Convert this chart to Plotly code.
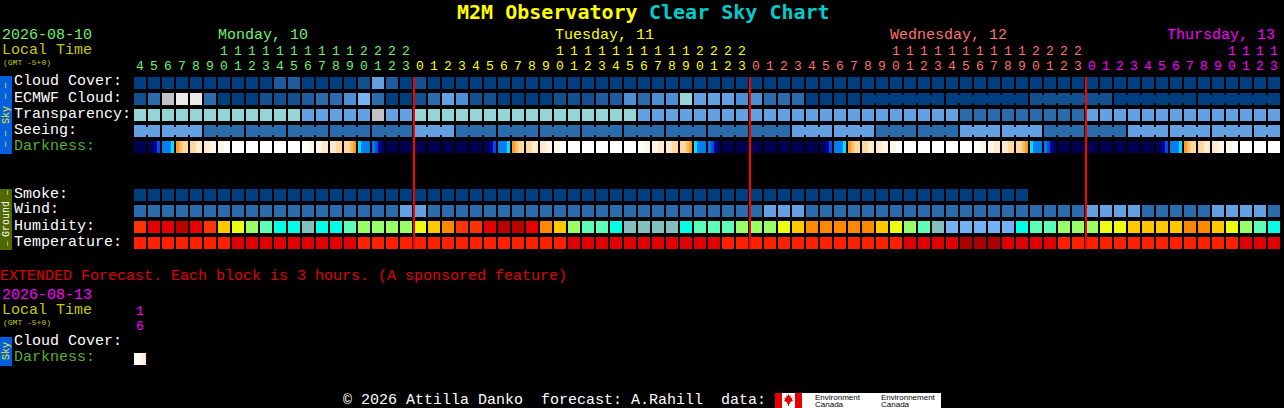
import numpy as np
import plotly.graph_objects as go

W, H = 1284, 408
MONO = "Liberation Mono"

# ---- palettes ----
SKY = ["#003F7F", "#13508F", "#1E5C9F", "#2B6CAC", "#4D8FD5", "#63A1E2", "#76B4F6", "#95D5D5", "#C2C2C2", "#EAEAEA"]
HUM = ["#BB0000", "#E60000", "#FF3300", "#FF8800", "#FFC800", "#EDFF11", "#99FF66", "#5CFFB5", "#00FFE6", "#83BFBF", "#73B3F5"]
TMP = ["#AA0000", "#E00000", "#FF2000"]
DRK = ["#000050", "#00006A", "#0000A0", "#0050D8", "#0080F0", "#00E0FF", "#FF9A20", "#FFBE60", "#FFD8A0", "#FFEACF", "#FFF6E8", "#FFFFFF"]

# ---- hours shown (local time) ----
hours = [4,5,6,7,8,9,10,11,12,13,14,15,16,17,18,19,20,21,22,23,
         0,1,2,3,4,5,6,7,8,9,10,11,12,13,14,15,16,17,18,19,20,21,22,23,
         0,1,2,3,4,5,6,7,8,9,10,11,12,13,14,15,16,17,18,19,20,21,22,23,
         0,1,2,3,4,5,6,7,8,9,10,11,12,13]
day_index = [0]*20 + [1]*24 + [2]*24 + [3]*14
day_colors = ["#70F070", "#FFFF00", "#FF7070", "#FF00FF"]
unit_colors = [day_colors[d] for d in day_index]
midnight_cols = [20, 44, 68]

# ---- sky rows (SKY palette codes) ----
cloud = [0,0,0,0,0,0,0,0,0,0,2,2,0,0,0,0,1,5,2,0,
         1,0,0,0,0,0,0,0,0,0,0,0,0,0,0,0,0,0,0,0,0,0,0,0,
         0,0,0,0,0,0,0,0,0,0,0,0,0,0,0,0,0,0,0,0,0,0,0,0,
         0,0,0,0,0,0,0,0,0,0,0,0,0,0]
ecmwf = [1,3,8,9,9,3,0,0,0,1,1,1,2,3,3,4,6,3,0,0,
         1,3,5,4,1,1,0,0,0,0,1,1,1,2,2,4,3,4,4,7,5,5,5,4,
         4,3,3,3,0,0,0,0,0,0,0,0,0,0,0,0,0,0,0,0,1,1,1,1,
         1,1,0,0,0,0,0,0,0,0,0,0,0,0]
transparency = [7,7,7,7,7,7,7,7,7,7,7,7,5,5,5,5,5,8,5,5,
                7,7,7,7,7,7,7,7,7,7,7,7,7,7,7,7,5,5,5,5,5,5,5,5,
                5,5,5,5,5,5,5,5,5,5,5,5,5,5,5,3,3,3,3,3,3,3,3,3,
                5,5,5,5,5,5,5,5,5,5,5,5,5,5]
seeing = [5,5,5,5,5,3,3,3,3,3,3,3,3,3,3,3,3,3,3,3,
          5,5,5,3,3,3,3,3,3,3,3,3,3,3,3,3,3,3,3,3,3,3,3,3,
          3,3,3,5,5,5,5,5,5,3,3,3,3,3,3,5,5,5,5,5,5,3,3,3,
          3,3,3,5,5,5,5,5,5,5,5,5,5,5]
seeing_blocks = [(0,1),(2,4),(5,7),(8,10),(11,13),(14,16),(17,19),(20,22),(23,25),(26,28),(29,31),
                 (32,34),(35,37),(38,40),(41,43),(44,46),(47,49),(50,52),(53,55),(56,58),(59,61),
                 (62,64),(65,67),(68,70),(71,73),(74,76),(77,79),(80,81)]
ecmwf_blocks = [(52,57),(58,63),(64,69),(70,75),(76,81)]

# ---- darkness, four readings inside every block (DRK palette codes) ----
darkness = [
    [0,0,0,0],[0,1,2,3],[4,4,4,5],[6,7,8,8],[8,8,9,9],[9,9,10,10],[10,10,11,11],
    [11,11,11,11],[11,11,11,11],[11,11,11,11],[11,11,11,11],[11,11,11,11],
    [11,11,10,10],[10,10,9,9],[9,9,8,8],[8,8,7,6],[5,4,4,4],[4,3,2,1],[0,0,0,0],[0,0,0,0],

    [0,0,0,0],[0,0,0,0],[0,0,0,0],[0,0,0,0],
    [0,0,0,0],[0,1,2,3],[4,4,4,5],[6,7,8,8],[8,8,9,9],[9,9,10,10],[10,10,11,11],
    [11,11,11,11],[11,11,11,11],[11,11,11,11],[11,11,11,11],[11,11,11,11],
    [11,11,10,10],[10,10,9,9],[9,9,8,8],[8,8,7,6],[5,4,4,4],[4,3,2,1],[0,0,0,0],[0,0,0,0],

    [0,0,0,0],[0,0,0,0],[0,0,0,0],[0,0,0,0],
    [0,0,0,0],[0,1,2,3],[4,4,4,5],[6,7,8,8],[8,8,9,9],[9,9,10,10],[10,10,11,11],
    [11,11,11,11],[11,11,11,11],[11,11,11,11],[11,11,11,11],[11,11,11,11],
    [11,11,10,10],[10,10,9,9],[9,9,8,8],[8,8,7,6],[5,4,4,4],[4,3,2,1],[0,0,0,0],[0,0,0,0],

    [0,0,0,0],[0,0,0,0],[0,0,0,0],[0,0,0,0],
    [0,0,0,0],[0,1,2,3],[4,4,4,5],[6,7,8,8],[8,8,9,9],[9,9,10,10],[10,10,11,11],
    [11,11,11,11],[11,11,11,11],[11,11,11,11],
]
extended_darkness = [[11,11,10,9]]

# ---- ground rows ----
smoke = [0,0,0,0,0,0,0,0,0,0,0,0,0,0,0,0,0,0,0,0,
         0,0,0,0,0,0,0,0,0,0,0,0,0,0,0,0,0,0,0,0,0,0,0,0,
         0,0,0,0,0,0,0,0,0,0,0,0,0,0,0,0,0,0,0,0]
wind = [3,3,3,3,3,3,3,3,3,3,3,3,3,3,3,3,3,3,3,5,
        5,3,3,3,3,3,3,3,3,3,3,3,3,3,3,3,3,3,3,3,3,3,3,3,
        3,5,5,5,3,3,3,3,3,3,3,3,3,3,3,3,3,3,3,3,3,3,3,3,
        5,5,5,5,3,3,3,3,3,5,5,5,5,3]
humidity = [2,1,1,0,1,2,4,5,6,7,8,8,9,8,8,7,6,6,6,6,
            5,4,3,2,2,1,0,0,1,3,4,6,7,7,8,9,9,9,9,8,7,7,7,6,
            6,6,5,4,3,3,3,3,3,4,5,6,7,9,10,10,10,10,10,8,7,7,6,6,
            6,5,5,4,4,4,4,3,3,4,5,6,7,8]
temperature = [2,2,2,2,2,2,2,1,1,1,1,1,1,1,1,1,2,2,2,2,
               2,2,2,2,2,2,2,2,2,2,2,1,1,1,1,1,1,1,1,1,1,1,2,2,
               2,2,2,2,2,2,2,2,2,2,2,1,1,1,1,0,0,0,1,1,1,1,2,2,
               2,2,2,2,2,2,2,2,2,2,2,1,1,1]

# ---- text ----
row_labels = ["Cloud Cover:", "ECMWF Cloud:", "Transparency:", "Seeing:", "Darkness:"]
ground_labels = ["Smoke:", "Wind:", "Humidity:", "Temperature:"]
day_titles = ["Monday, 10", "Tuesday, 11", "Wednesday, 12", "Thursday, 13"]
day_title_x = [218, 555, 890, 1167]

# ---- pixel frame: a column is 14 px, a row 16 px ----
def cx(px): return (px - 140) / 14
def cy(py): return (py - 83) / 16
def pxx(x): return x / W
def pxy(y): return 1 - y / H

def discrete(colors):
    n = len(colors)
    out = []
    for i, c in enumerate(colors):
        out += [[i / n, c], [(i + 1) / n, c]]
    return out

fig = go.Figure()

def row(values, y, colors):
    fig.add_trace(go.Heatmap(
        z=[values], x0=0, dx=1, y0=y, dy=1, xgap=2, ygap=4,
        colorscale=discrete(colors), zmin=-0.5, zmax=len(colors) - 0.5,
        showscale=False, hoverinfo="skip"))

row(cloud, 0, SKY)
row(ecmwf, 1, SKY)
row(transparency, 2, SKY)
row(seeing, 3, SKY)
row(smoke, 7, SKY)
row(wind, 8, SKY)
row(humidity, 9, HUM)
row(temperature, 10, TMP)

def dark_row(cells, y):
    z = []
    for readings in cells:
        z.append(None)
        z += list(np.repeat(readings, 3).astype(float))
        z.append(None)
    fig.add_trace(go.Heatmap(
        z=[z], x0=-0.5 + 0.5 / 14, dx=1 / 14, y0=y, dy=0.75,
        colorscale=discrete(DRK), zmin=-0.5, zmax=len(DRK) - 0.5,
        showscale=False, hoverinfo="skip"))

dark_row(darkness, 4)
dark_row(extended_darkness, cy(359))

# links between blocks of one forecast period
def links(blocks, values, y):
    by_color = {}
    for a, b in blocks:
        for j in range(a, b):
            xs, ys = by_color.setdefault(values[j], ([], []))
            xs += [j + 0.5 - 1 / 14, j + 0.5 + 1 / 14, None]
            ys += [y, y, None]
    for code, (xs, ys) in by_color.items():
        fig.add_trace(go.Scatter(x=xs, y=ys, mode="lines", line=dict(color=SKY[code], width=8),
                                 hoverinfo="skip", showlegend=False))

links(seeing_blocks, seeing, 3)
links(ecmwf_blocks, ecmwf, 1)

# midnight lines
xs, ys = [], []
for c in midnight_cols:
    xs += [c - 3 / 7, c - 3 / 7, None]
    ys += [cy(77), cy(249.5), None]
fig.add_trace(go.Scatter(x=xs, y=ys, mode="lines", line=dict(color="#FF0000", width=2),
                         hoverinfo="skip", showlegend=False))

# hour digits
DIGIT = 13
cols = list(range(len(hours)))
fig.add_trace(go.Scatter(
    x=cols, y=[cy(67)] * len(cols), mode="text", text=[str(h % 10) for h in hours],
    textfont=dict(family=MONO, size=DIGIT, color=unit_colors), textposition="middle center",
    hoverinfo="skip", showlegend=False))
tens = [i for i in cols if hours[i] >= 10]
fig.add_trace(go.Scatter(
    x=tens, y=[cy(52)] * len(tens), mode="text", text=[str(hours[i] // 10) for i in tens],
    textfont=dict(family=MONO, size=DIGIT, color=[unit_colors[i] for i in tens]),
    textposition="middle center", hoverinfo="skip", showlegend=False))
fig.add_trace(go.Scatter(
    x=[0, 0], y=[cy(312), cy(327)], mode="text", text=["1", "6"],
    textfont=dict(family=MONO, size=DIGIT, color="#FF00FF"), textposition="middle center",
    hoverinfo="skip", showlegend=False))

ann = []
def text(s, x, y, color="#FFFFFF", size=15, bold=False, angle=0, anchor="left", family=MONO):
    ann.append(dict(text=f"<b>{s}</b>" if bold else s, x=pxx(x), y=pxy(y), xref="paper", yref="paper",
                    xanchor=anchor, yanchor="middle", showarrow=False, textangle=angle,
                    font=dict(family=family, size=size, color=color), borderpad=0, borderwidth=0))

text("M2M Observatory", 457, 12, "#FFFF00", 20, True, family="DejaVu Sans Mono")
text("Clear Sky Chart", 649, 12, "#00CCCC", 20, True, family="DejaVu Sans Mono")
text("2026-08-10", 2, 35, "#70F070")
text("Local Time", 2, 50, "#C8C800")
text("(GMT -5+0)", 3, 62, "#C8C800", 8)
for t, x, c in zip(day_titles, day_title_x, day_colors):
    text(t, x, 35, c)
for i, t in enumerate(row_labels):
    text(t, 14, 82 + 16 * i, "#55B030" if t == "Darkness:" else "#FFFFFF")
for i, t in enumerate(ground_labels):
    text(t, 14, 194 + 16 * i)
text("EXTENDED Forecast. Each block is 3 hours. (A sponsored feature)", 0, 276, "#E00000")
text("2026-08-13", 2, 295, "#FF00FF")
text("Local Time", 2, 310, "#C8C800")
text("(GMT -5+0)", 3, 322, "#C8C800", 8)
text("Cloud Cover:", 14, 341)
text("Darkness:", 14, 357, "#55B030")
text("© 2026 Attilla Danko  forecast: A.Rahill  data:", 343, 400)
# side tabs
text("Sky", 6, 115, "#FFE800", 10, angle=-90, anchor="center")
text("— —", 6, 91, "#FFE800", 9, angle=-90, anchor="center")
text("— —", 6, 139, "#FFE800", 9, angle=-90, anchor="center")
text("Ground", 6, 219, "#FFFFFF", 10, angle=-90, anchor="center")
text("—", 6, 193, "#FFFFFF", 8, angle=-90, anchor="center")
text("—", 6, 244, "#FFFFFF", 8, angle=-90, anchor="center")
text("Sky", 6, 351, "#FFE800", 10, angle=-90, anchor="center")
# logos
text("Environment", 815, 397, "#000000", 8, family="Liberation Sans")
text("Canada", 815, 404, "#000000", 8, family="Liberation Sans")
text("Environnement", 881, 397, "#000000", 8, family="Liberation Sans")
text("Canada", 881, 404, "#000000", 8, family="Liberation Sans")

def rect(x0, y0, x1, y1, color):
    return dict(type="rect", xref="paper", yref="paper", x0=pxx(x0), x1=pxx(x1), y0=pxy(y0), y1=pxy(y1),
                fillcolor=color, line=dict(width=0), layer="below")

leaf = [(788.5,394),(789.5,396),(791,395.5),(790.5,398),(792.5,397.5),(792,399.5),(793,400.5),(790,402.5),
        (790,404),(789,403.5),(789,406),(788,406),(788,403.5),(787,404),(787,402.5),(784,400.5),(785,399.5),
        (784.5,397.5),(786.5,398),(786,395.5),(787.5,396)]
leaf_path = "M " + " L ".join(f"{pxx(x):.5f},{pxy(y):.5f}" for x, y in leaf) + " Z"

shapes = [
    rect(0, 76, 12, 154, "#0060E0"),
    rect(0, 189, 12, 250, "#4F6800"),
    rect(0, 337, 12, 366, "#0060E0"),
    rect(775, 393, 941, 408, "#FFFFFF"),
    rect(775, 393, 782, 408, "#E60000"),
    rect(795, 393, 802, 408, "#E60000"),
    dict(type="path", xref="paper", yref="paper", path=leaf_path, fillcolor="#E60000", line=dict(width=0), layer="below"),
]

fig.update_layout(
    width=W, height=H, margin=dict(l=0, r=0, t=0, b=0, pad=0),
    paper_bgcolor="#000000", plot_bgcolor="rgba(0,0,0,0)", showlegend=False,
    xaxis=dict(visible=False, range=[cx(0), cx(W)], fixedrange=True),
    yaxis=dict(visible=False, range=[cy(H), cy(0)], fixedrange=True),
    annotations=ann, shapes=shapes,
)
assert len(cloud) == len(ecmwf) == len(transparency) == len(seeing) == len(wind) == len(humidity) == len(temperature) == len(darkness) == len(hours) == 82

fig.write_html("out.html", config={"displayModeBar": False},
               post_script="document.body.style.margin='0';document.body.style.background='#000';document.body.style.overflow='hidden';")
